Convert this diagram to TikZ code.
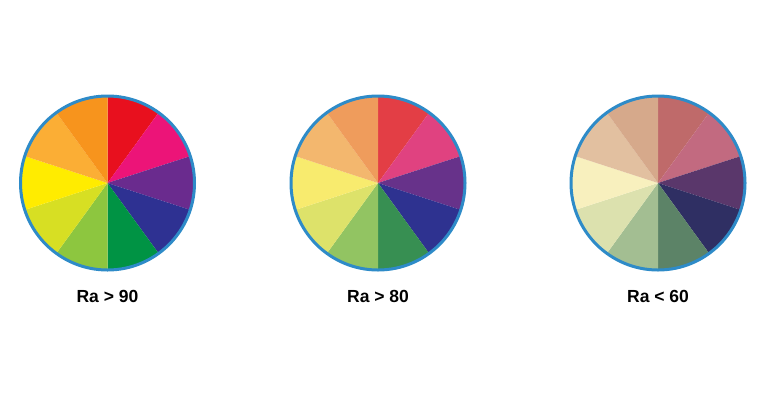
\documentclass[tikz,border=0pt]{standalone}
\usepackage{fontspec}
\setmainfont{Liberation Sans}
\definecolor{rim}{HTML}{2E8BC8}
\tikzset{
  rimline/.style={draw=rim, line width=3pt},
  lbl/.style={font=\bfseries\fontsize{17.5}{20}\selectfont, text=black}
}
% wheel: #1 center name, #2 list of 10 hex colors (clockwise from top)
\newcommand{\mywheel}[2]{%
  \foreach \c [count=\i from 0] in {#2} {
    \pgfmathsetmacro{\a}{90-36*\i}
    \pgfmathsetmacro{\b}{54-36*\i}
    \definecolor{segcol}{HTML}{\c}
    \fill[segcol] (#1) -- ++(\a:87) arc[start angle=\a, end angle=\b, radius=87] -- cycle;
  }
  \draw[rimline] (#1) circle[radius=87];
}
\begin{document}
\begin{tikzpicture}[x=1pt,y=-1pt]
\useasboundingbox[fill=white] (0,0) rectangle (770,400);
\coordinate (w1) at (107.5,183);
\coordinate (w2) at (378,183);
\coordinate (w3) at (658,183);
\begin{scope}[y=1pt]
\mywheel{w1}{E8101E,EC1478,6A2B8E,2E3192,009344,8DC63F,D7DF23,FFEC00,FBAE35,F7941D}
\mywheel{w2}{E33E45,E04280,67328A,2E3290,378F52,92C462,DDE26A,F8EB6E,F3B76E,EF9C5C}
\mywheel{w3}{BF6A6A,C26A80,5A376B,2F2F63,5C8367,A3BE92,DCE1AE,F8F0BE,E2C0A0,D6A98B}
\end{scope}
\node[lbl] (l1) at (107.5,296) {Ra > 90};
\node[lbl] (l2) at (378,296) {Ra > 80};
\node[lbl] (l3) at (658,296) {Ra < 60};
\end{tikzpicture}
\end{document}
